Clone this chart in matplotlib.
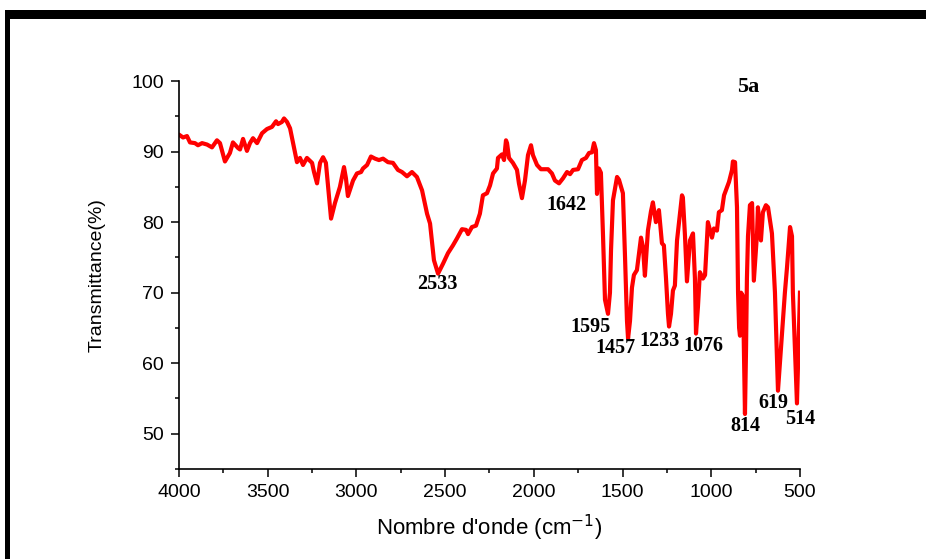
import matplotlib
matplotlib.use('Agg')
import matplotlib.pyplot as plt
from matplotlib.patches import Rectangle
from matplotlib.ticker import MultipleLocator

# IR spectrum
wavenumber = [3994, 3977, 3955, 3938, 3910, 3893, 3870, 3842, 3814, 3786,
              3769, 3741, 3713, 3696, 3667, 3656, 3639, 3617, 3600, 3583,
              3560, 3532, 3504, 3476, 3453, 3442, 3420, 3408, 3391, 3374,
              3357, 3335, 3318, 3301, 3279, 3250, 3239, 3222, 3205, 3188,
              3172, 3143, 3121, 3093, 3070, 3059, 3048, 3019, 2997, 2974,
              2963, 2940, 2918, 2895, 2873, 2850, 2822, 2794, 2766, 2743,
              2715, 2687, 2659, 2630, 2602, 2585, 2563, 2540, 2512, 2484,
              2456, 2433, 2405, 2382, 2371, 2349, 2326, 2304, 2287, 2264,
              2247, 2230, 2208, 2202, 2180, 2168, 2157, 2151, 2140, 2118,
              2095, 2084, 2067, 2050, 2033, 2016, 2005, 1982, 1960, 1937,
              1920, 1898, 1881, 1858, 1836, 1813, 1796, 1779, 1751, 1729,
              1706, 1689, 1672, 1661, 1650, 1644, 1633, 1622, 1610, 1599,
              1582, 1571, 1565, 1554, 1531, 1520, 1503, 1498, 1486, 1475,
              1469, 1458, 1447, 1436, 1419, 1396, 1385, 1374, 1357, 1340,
              1329, 1312, 1295, 1278, 1267, 1255, 1244, 1238, 1227, 1216,
              1205, 1193, 1177, 1165, 1160, 1148, 1137, 1120, 1103, 1092,
              1086, 1075, 1064, 1047, 1035, 1019, 996, 985, 968, 957,
              940, 928, 912, 900, 883, 878, 866, 855, 849, 843,
              838, 832, 821, 810, 804, 799, 793, 782, 770, 760,
              742, 737, 720, 709, 692, 680, 658, 641, 624, 601,
              585, 573, 556, 545, 540, 517, 500]
transmittance = [92.3, 92.0, 92.2, 91.3, 91.2, 90.9, 91.2, 91.0, 90.6, 91.6,
                 91.2, 88.6, 89.8, 91.3, 90.5, 90.3, 91.8, 90.1, 91.2, 91.9,
                 91.2, 92.6, 93.2, 93.5, 94.3, 93.9, 94.2, 94.7, 94.2, 93.3,
                 91.2, 88.5, 89.1, 88.1, 89.1, 88.4, 87.1, 85.5, 88.4, 89.2,
                 88.4, 80.5, 82.7, 85.0, 87.8, 86.2, 83.7, 85.9, 86.9, 87.1,
                 87.6, 88.1, 89.3, 89.0, 88.8, 89.0, 88.5, 88.4, 87.4, 87.1,
                 86.5, 87.1, 86.4, 84.5, 81.2, 79.8, 74.6, 72.7, 74.1, 75.6,
                 76.7, 77.7, 79.0, 78.9, 78.3, 79.3, 79.5, 81.2, 83.8, 84.1,
                 85.2, 86.9, 87.6, 89.1, 89.6, 88.8, 91.6, 91.2, 89.1, 88.4,
                 87.4, 85.5, 83.4, 85.9, 89.5, 90.9, 89.5, 88.1, 87.5, 87.5,
                 87.5, 86.9, 85.9, 85.5, 86.2, 87.1, 86.8, 87.4, 87.5, 88.8,
                 89.1, 89.8, 89.9, 91.2, 90.2, 84.0, 87.6, 87.0, 78.0, 69.0,
                 67.0, 70.0, 76.0, 83.1, 86.4, 86.0, 84.5, 84.1, 75.0, 66.0,
                 63.5, 66.0, 70.7, 72.5, 73.2, 77.8, 76.5, 72.4, 78.8, 81.5,
                 82.8, 80.0, 81.7, 77.0, 76.7, 72.0, 67.0, 65.2, 67.0, 70.3,
                 71.0, 77.4, 81.0, 83.8, 83.5, 78.0, 71.6, 77.4, 78.4, 72.0,
                 64.2, 68.0, 72.9, 72.0, 72.5, 80.0, 77.8, 79.1, 78.8, 81.4,
                 81.7, 83.8, 84.9, 85.7, 87.4, 88.6, 88.5, 82.1, 70.0, 65.0,
                 63.9, 70.0, 69.5, 52.8, 62.0, 72.0, 78.0, 82.4, 82.7, 71.7,
                 78.4, 82.1, 77.4, 81.4, 82.4, 82.1, 78.4, 70.0, 56.1, 64.2,
                 70.0, 73.6, 79.3, 78.0, 70.0, 54.3, 70.0]

peak_labels = ['2533', '1642', '1595', '1457', '1233', '1076', '814', '619', '514']
peak_x = [2546, 1819, 1683, 1542, 1289, 1046, 810, 652, 500]
peak_y = [71.2, 82.4, 65.2, 62.1, 63.2, 62.5, 51.1, 54.4, 52.1]

fig = plt.figure(figsize=(9.26, 5.59), dpi=100)
ax = fig.add_axes([0.1933, 0.161, 0.6706, 0.694])

ax.plot(wavenumber, transmittance, color='red', lw=3)

ax.set_xlim(4000, 500)
ax.set_ylim(45, 100)
ax.xaxis.set_major_locator(MultipleLocator(500))
ax.xaxis.set_minor_locator(MultipleLocator(250))
ax.yaxis.set_major_locator(MultipleLocator(10))
ax.yaxis.set_minor_locator(MultipleLocator(5))
ax.set_yticks([50, 60, 70, 80, 90, 100])

for s in ['top', 'right']:
    ax.spines[s].set_visible(False)
for s in ['left', 'bottom']:
    ax.spines[s].set_linewidth(1.2)

ax.tick_params(which='major', direction='out', length=6, width=1.1,
               labelsize=14, pad=5)
ax.tick_params(which='minor', direction='out', length=3, width=1.1)
for lab in ax.get_xticklabels() + ax.get_yticklabels():
    lab.set_family('Liberation Sans')

ax.set_xlabel("Nombre d'onde (cm$^{-1}$)", fontsize=16,
              family='Liberation Sans', labelpad=8)
ax.set_ylabel('Transmittance(%)', fontsize=14,
              family='Liberation Sans', labelpad=18)

for lab, x, y in zip(peak_labels, peak_x, peak_y):
    ax.text(x, y, lab, ha='center', va='center', fontsize=14.5,
            fontweight='bold', family='Liberation Serif')

ax.text(793, 99.1, '5a', ha='center', va='center', fontsize=16,
        fontweight='bold', family='Liberation Serif')

# thick black frame on the top and left edges
fig.add_artist(Rectangle((5 / 926, 0), 5 / 926, 1 - 10 / 559,
                         transform=fig.transFigure, color='black', lw=0))
fig.add_artist(Rectangle((5 / 926, 1 - 19 / 559), 1, 9 / 559,
                         transform=fig.transFigure, color='black', lw=0))

fig.savefig('out.png', dpi=100)
